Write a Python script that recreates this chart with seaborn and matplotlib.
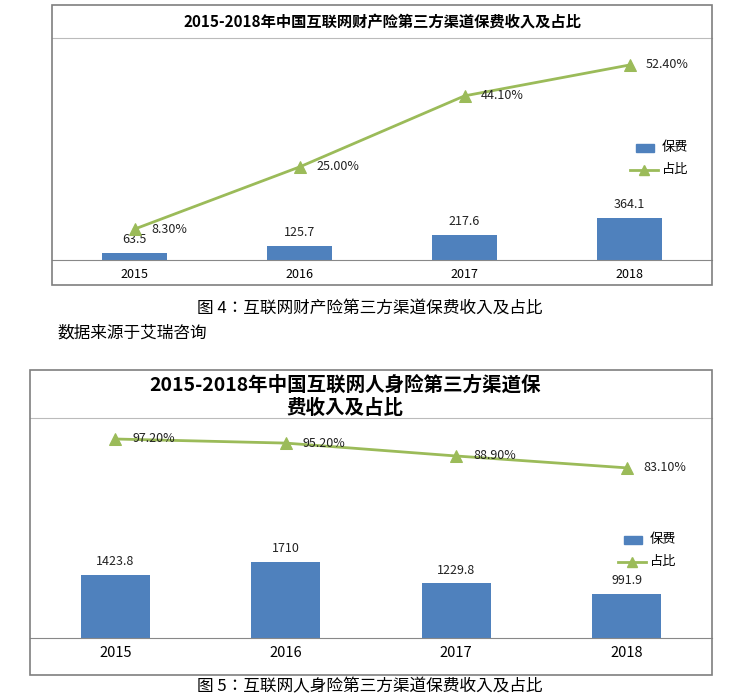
import matplotlib
matplotlib.use("Agg")
import matplotlib.pyplot as plt
import seaborn as sns
import pandas as pd
from matplotlib.patches import Rectangle
from matplotlib.lines import Line2D
from matplotlib import font_manager as fm

cjk = None
for f in fm.fontManager.ttflist:
    if "CJK" in f.name and ("SC" in f.name or cjk is None):
        cjk = f.name
        if "SC" in f.name:
            break
if cjk is None:
    for p in fm.findSystemFonts():
        if "CJK" in p:
            fm.fontManager.addfont(p)
            cjk = fm.FontProperties(fname=p).get_name()
            break
plt.rcParams["font.family"] = "sans-serif"
plt.rcParams["font.sans-serif"] = [cjk or "Noto Sans CJK SC", "DejaVu Sans"]

years = ["2015", "2016", "2017", "2018"]
prop_premium = [63.5, 125.7, 217.6, 364.1]
prop_share = [8.3, 25.0, 44.1, 52.4]
life_premium = [1423.8, 1710, 1229.8, 991.9]
life_share = [97.2, 95.2, 88.9, 83.1]

W, H = 744, 698
fig = plt.figure(figsize=(W / 100, H / 100), dpi=100)
BLUE, GREEN = "#4F81BD", "#9BBB59"

def fx(x): return x / W
def fy(y): return 1 - y / H

def chart(box, plot_top, base, centers, prem, share, ymax_bar, ymax_pct, title_lines, title_y, leg_x, leg_y, lblfmt, tick_fs, title_fs):
    x0, y0, x1, y1 = box
    fig.patches.append(Rectangle((fx(x0), fy(y1)), fx(x1 - x0), (y1 - y0) / H,
                                 transform=fig.transFigure, fill=False, ec="#7f7f7f", lw=1.2))
    ax = fig.add_axes([fx(x0), fy(base), fx(x1 - x0), (base - plot_top) / H])
    sp = (centers[-1] - centers[0]) / 3
    ax.set_xlim(-(centers[0] - x0) / sp, 3 + (x1 - centers[-1]) / sp)
    df = pd.DataFrame({"year": years, "v": prem})
    sns.barplot(data=df, x="year", y="v", color=BLUE, width=68 / sp, ax=ax, saturation=1)
    ax.set_ylim(0, ymax_bar)
    for i, v in enumerate(prem):
        ax.text(i, v + ymax_bar * 0.03, lblfmt(v), ha="center", va="bottom", fontsize=9, color="#222")
    ax.set_xlabel(""); ax.set_ylabel(""); ax.set_yticks([])
    ax.tick_params(axis="x", length=0, labelsize=tick_fs, pad=6)
    for s in ["left", "right"]: ax.spines[s].set_visible(False)
    ax.spines["bottom"].set_color("#888"); ax.spines["top"].set_color("#bbb")
    ax.patch.set_alpha(0)
    ax2 = ax.twinx()
    sns.lineplot(x=list(range(4)), y=share, ax=ax2, color=GREEN, lw=2, marker="^", ms=8, mec=GREEN)
    ax2.set_ylim(0, ymax_pct)
    ax2.set_yticks([]); ax2.set_xlim(ax.get_xlim())
    for s in ax2.spines.values(): s.set_visible(False)
    for i, v in enumerate(share):
        ax2.text(i + 0.1, v, f"{v:.2f}%", ha="left", va="center", fontsize=9, color="#222")
    for k, t in enumerate(title_lines):
        fig.text(fx(345 if len(title_lines) > 1 else (x0 + x1) / 2), fy(title_y + k * 23), t,
                 ha="center", va="center", fontsize=title_fs, fontweight="bold")
    fig.patches.append(Rectangle((fx(leg_x), fy(leg_y + 4)), fx(18), 8 / H, transform=fig.transFigure,
                                 color=BLUE))
    fig.text(fx(leg_x + 26), fy(leg_y), "保费", va="center", fontsize=9.5)
    fig.lines.append(Line2D([fx(leg_x - 6), fx(leg_x + 22)], [fy(leg_y + 22)] * 2, transform=fig.transFigure,
                            color=GREEN, lw=2))
    fig.lines.append(Line2D([fx(leg_x + 8)], [fy(leg_y + 22)], transform=fig.transFigure,
                            color=GREEN, marker="^", ms=7, ls=""))
    fig.text(fx(leg_x + 26), fy(leg_y + 22), "占比", va="center", fontsize=9.5)

chart((52, 5, 712, 285), 38, 260, [110, 282, 453, 626], prop_premium, prop_share,
      364.1 / 42 * 222, 52.4 / 195 * 222, ["2015-2018年中国互联网财产险第三方渠道保费收入及占比"], 22,
      636, 148, lambda v: f"{v:.1f}", 9, 11)
fig.text(fx(370), fy(308), "图 4：互联网财产险第三方渠道保费收入及占比", ha="center", va="center", fontsize=12)
fig.text(fx(57), fy(333), "数据来源于艾瑞咨询", ha="left", va="center", fontsize=12)

chart((30, 370, 712, 675), 418, 638, [115, 285, 452, 621], life_premium, life_share,
      1710 / 76 * 220, 97.2 / 199 * 220, ["2015-2018年中国互联网人身险第三方渠道保", "费收入及占比"], 385,
      624, 540, lambda v: f"{v:g}", 10.5, 14)
fig.text(fx(370), fy(687), "图 5：互联网人身险第三方渠道保费收入及占比", ha="center", va="center", fontsize=12)

fig.savefig("out.png", dpi=100)
